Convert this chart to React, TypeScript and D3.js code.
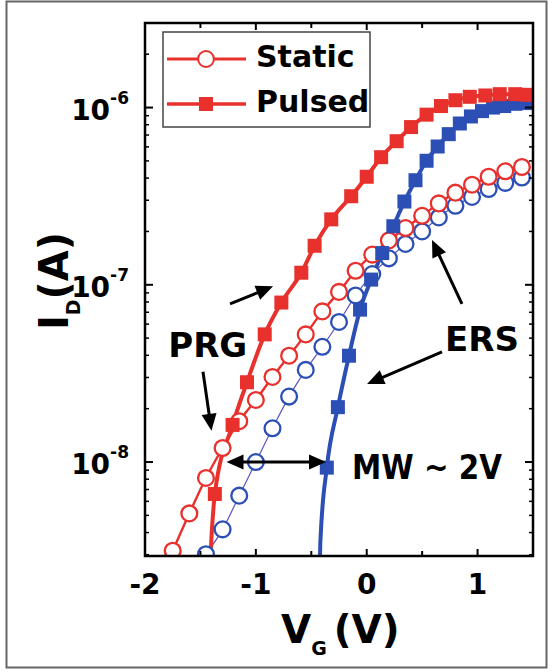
import React from 'react';
import * as d3 from 'd3';

const W = 553;
const H = 672;
const PL = 145, PR = 533, PT = 23, PB = 556;

const xMajor = [-2, -1, 0, 1];
const xMinor = [-1.5, -0.5, 0.5];
const yMajor = [1e-8, 1e-7, 1e-6];
const yExpLabels = ['-8', '-7', '-6'];

// Static (open circles)
const staticRedV = [-1.75, -1.6, -1.45, -1.3, -1.15, -1.0, -0.85, -0.7, -0.55, -0.4, -0.25, -0.1, 0.05, 0.2, 0.35, 0.5, 0.65, 0.8, 0.95, 1.1, 1.25, 1.4];
const staticRedI = [3.16e-9, 5.13e-9, 8.13e-9, 1.2e-8, 1.7e-8, 2.24e-8, 3.02e-8, 3.98e-8, 5.25e-8, 7.08e-8, 9.12e-8, 1.2e-7, 1.48e-7, 1.78e-7, 2.09e-7, 2.45e-7, 2.88e-7, 3.31e-7, 3.67e-7, 4.07e-7, 4.37e-7, 4.62e-7];
const staticBlueV = [-1.45, -1.3, -1.15, -1.0, -0.85, -0.7, -0.55, -0.4, -0.25, -0.1, 0.05, 0.2, 0.35, 0.5, 0.65, 0.8, 0.95, 1.1, 1.25, 1.4];
const staticBlueI = [3.02e-9, 4.17e-9, 6.46e-9, 1.0e-8, 1.55e-8, 2.34e-8, 3.31e-8, 4.47e-8, 6.17e-8, 8.71e-8, 1.15e-7, 1.41e-7, 1.7e-7, 2.0e-7, 2.4e-7, 2.79e-7, 3.13e-7, 3.47e-7, 3.76e-7, 4.03e-7];

// Pulsed (filled squares); tails continue the curve below the axis without markers
const pulsedRedTailV = [-1.43, -1.4];
const pulsedRedTailI = [1.58e-9, 3.8e-9];
const pulsedRedV = [-1.37, -1.21, -1.08, -0.92, -0.77, -0.59, -0.47, -0.32, -0.14, 0.0, 0.13, 0.27, 0.4, 0.54, 0.67, 0.8, 0.93, 1.07, 1.2, 1.34, 1.45];
const pulsedRedI = [6.6e-9, 1.62e-8, 2.82e-8, 5.25e-8, 7.94e-8, 1.17e-7, 1.66e-7, 2.34e-7, 3.16e-7, 4.07e-7, 5.25e-7, 6.46e-7, 7.76e-7, 9.12e-7, 1.02e-6, 1.1e-6, 1.15e-6, 1.17e-6, 1.19e-6, 1.19e-6, 1.18e-6];
const pulsedBlueTailV = [-0.43, -0.418];
const pulsedBlueTailI = [1.26e-9, 3.55e-9];
const pulsedBlueV = [-0.36, -0.26, -0.16, -0.06, 0.04, 0.14, 0.24, 0.34, 0.44, 0.54, 0.64, 0.74, 0.84, 0.94, 1.04, 1.14, 1.24, 1.34, 1.44];
const pulsedBlueI = [9.3e-9, 2.04e-8, 3.98e-8, 7.24e-8, 1.07e-7, 1.51e-7, 2.14e-7, 2.95e-7, 3.89e-7, 5.01e-7, 6.03e-7, 7.08e-7, 8.13e-7, 8.91e-7, 9.55e-7, 1.0e-6, 1.02e-6, 1.05e-6, 1.06e-6];

// Annotations in data coordinates [V, I]
const arrowPrgUp = [[-1.233, 7.8e-8], [-0.845, 9.8e-8]];
const arrowPrgDown = [[-1.477, 3.23e-8], [-1.4, 1.5e-8]];
const arrowMW = [[-1.265, 1.0e-8], [-0.367, 1.0e-8]];
const arrowErsUp = [[0.859, 7.8e-8], [0.589, 1.79e-7]];
const arrowErsLeft = [[0.679, 4.18e-8], [0.003, 2.76e-8]];
const textPRG = [-1.79, 3.9e-8];
const textERS = [0.706, 4.24e-8];
const textMW = [-0.133, 8.07e-9];

const RED = '#e8302c';
const BLUE = '#2c4fb6';
const BLUE_THIN = '#5a55c0';
const FONT = '"DejaVu Sans", Arial, sans-serif';

const x = d3.scaleLinear().domain([-2, 1.5]).range([PL, PR]);
const y = d3.scaleLog().domain([2.95e-9, 3.0e-6]).range([PB, PT]);

function zip(vs: number[], is: number[]) {
  return vs.map((v, i) => [v, is[i]] as [number, number]);
}

const line = d3
  .line<[number, number]>()
  .x((d) => x(d[0]))
  .y((d) => y(d[1]))
  .curve(d3.curveMonotoneX);

function Arrow({ p, double }: { p: number[][]; double?: boolean }) {
  const x1 = x(p[0][0] as number), y1 = y(p[0][1] as number);
  const x2 = x(p[1][0] as number), y2 = y(p[1][1] as number);
  const ang = Math.atan2(y2 - y1, x2 - x1);
  const hl = 17, hw = 7.5;
  const head = (tx: number, ty: number, a: number) => {
    const bx = tx - hl * Math.cos(a), by = ty - hl * Math.sin(a);
    const nx = -Math.sin(a) * hw, ny = Math.cos(a) * hw;
    return `${tx},${ty} ${bx + nx},${by + ny} ${bx - nx},${by - ny}`;
  };
  const sx = double ? x1 + (hl - 2) * Math.cos(ang) : x1;
  const sy = double ? y1 + (hl - 2) * Math.sin(ang) : y1;
  const ex = x2 - (hl - 2) * Math.cos(ang);
  const ey = y2 - (hl - 2) * Math.sin(ang);
  return (
    <g>
      <line x1={sx} y1={sy} x2={ex} y2={ey} stroke="#000" strokeWidth={3} />
      <polygon points={head(x2, y2, ang)} fill="#000" />
      {double && <polygon points={head(x1, y1, ang + Math.PI)} fill="#000" />}
    </g>
  );
}

export default function App() {
  const yMinor: number[] = [];
  for (let e = -9; e <= -6; e++) {
    for (let k = 2; k <= 9; k++) {
      const v = k * Math.pow(10, e);
      if (v >= 2.95e-9 && v <= 3.0e-6) yMinor.push(v);
    }
  }
  const sq = 14;
  const rr = 7.9;
  const sR = zip(staticRedV, staticRedI);
  const sB = zip(staticBlueV, staticBlueI);
  const pR = zip(pulsedRedV, pulsedRedI);
  const pB = zip(pulsedBlueV, pulsedBlueI);
  const pRline = zip(pulsedRedTailV, pulsedRedTailI).concat(pR);
  const pBline = zip(pulsedBlueTailV, pulsedBlueTailI).concat(pB);

  return (
    <svg width={W} height={H} style={{ position: 'absolute', left: 0, top: 0, background: '#fff' }} fontFamily={FONT}>
      <rect x={6.5} y={1.5} width={540} height={666} fill="#fff" stroke="#666" strokeWidth={2} />
      <defs>
        <clipPath id="plotclip">
          <rect x={PL} y={PT} width={PR - PL} height={PB - PT} />
        </clipPath>
      </defs>

      {/* Legend */}
      <rect x={163} y={32} width={207} height={95} fill="#fff" stroke="#444" strokeWidth={1.5} />
      <line x1={167} x2={246} y1={59} y2={59} stroke={RED} strokeWidth={3} />
      <circle cx={206} cy={59} r={rr} fill="#fff" stroke={RED} strokeWidth={2} />
      <text x={256} y={67} fontSize={30} fontWeight="bold">Static</text>
      <line x1={167} x2={246} y1={104} y2={104} stroke={RED} strokeWidth={3.5} />
      <rect x={206 - sq / 2} y={104 - sq / 2} width={sq} height={sq} fill={RED} />
      <text x={256} y={112} fontSize={30} fontWeight="bold">Pulsed</text>

      <g clipPath="url(#plotclip)">
        <path d={line(sB) || ''} fill="none" stroke={BLUE_THIN} strokeWidth={1.2} />
        <path d={line(sR) || ''} fill="none" stroke={RED} strokeWidth={2.4} />
        <path d={line(pBline) || ''} fill="none" stroke={BLUE} strokeWidth={4} />
        <path d={line(pRline) || ''} fill="none" stroke={RED} strokeWidth={4} />
        {sB.map((d, i) => (
          <circle key={'sb' + i} cx={x(d[0])} cy={y(d[1])} r={rr} fill="#fff" stroke={BLUE} strokeWidth={2.3} />
        ))}
        {sR.map((d, i) => (
          <circle key={'sr' + i} cx={x(d[0])} cy={y(d[1])} r={rr} fill="#fff" stroke={RED} strokeWidth={2.3} />
        ))}
        {pB.map((d, i) => (
          <rect key={'pb' + i} x={x(d[0]) - sq / 2} y={y(d[1]) - sq / 2} width={sq} height={sq} fill={BLUE} />
        ))}
        {pR.map((d, i) => (
          <rect key={'pr' + i} x={x(d[0]) - sq / 2} y={y(d[1]) - sq / 2} width={sq} height={sq} fill={RED} />
        ))}
      </g>

      {/* Annotations */}
      <Arrow p={arrowPrgUp} />
      <Arrow p={arrowPrgDown} />
      <Arrow p={arrowMW} double />
      <Arrow p={arrowErsUp} />
      <Arrow p={arrowErsLeft} />
      <text x={x(textPRG[0])} y={y(textPRG[1])} fontSize={34} fontWeight="bold">PRG</text>
      <text x={x(textERS[0])} y={y(textERS[1])} fontSize={34} fontWeight="bold">ERS</text>
      <text x={x(textMW[0])} y={y(textMW[1])} fontSize={34} fontWeight="bold" textLength={150} lengthAdjust="spacingAndGlyphs">MW ~ 2V</text>

      {/* Axes frame */}
      <rect x={PL} y={PT} width={PR - PL} height={PB - PT} fill="none" stroke="#000" strokeWidth={2.5} />
      {xMajor.concat(xMinor).map((v, i) => (
        <g key={'xt' + i}>
          <line x1={x(v)} x2={x(v)} y1={PB} y2={PB - (i < xMajor.length ? 7 : 5)} stroke="#000" strokeWidth={2} />
          <line x1={x(v)} x2={x(v)} y1={PT} y2={PT + (i < xMajor.length ? 7 : 5)} stroke="#000" strokeWidth={2} />
        </g>
      ))}
      {yMajor.map((v, i) => (
        <g key={'ym' + i}>
          <line x1={PL} x2={PL + 8} y1={y(v)} y2={y(v)} stroke="#000" strokeWidth={2} />
          <line x1={PR} x2={PR - 8} y1={y(v)} y2={y(v)} stroke="#000" strokeWidth={2} />
        </g>
      ))}
      {yMinor.map((v, i) => (
        <g key={'yn' + i}>
          <line x1={PL} x2={PL + 4} y1={y(v)} y2={y(v)} stroke="#000" strokeWidth={1.5} />
          <line x1={PR} x2={PR - 4} y1={y(v)} y2={y(v)} stroke="#000" strokeWidth={1.5} />
        </g>
      ))}

      {/* Tick labels */}
      {xMajor.map((v, i) => (
        <text key={'xl' + i} x={x(v)} y={594} fontSize={28} fontWeight="bold" textAnchor="middle">
          {v < 0 ? '-' + Math.abs(v) : String(v)}
        </text>
      ))}
      {yMajor.map((v, i) => (
        <text key={'yl' + i} x={129} y={y(v) + 12} fontSize={28} fontWeight="bold" textAnchor="end">
          10
          <tspan fontSize={17} dy={-16}>{yExpLabels[i]}</tspan>
        </text>
      ))}

      {/* Axis titles */}
      <text x={281} y={643} fontSize={39} fontWeight="bold">
        V<tspan fontSize={19} dy={12}>G</tspan>
        <tspan dy={-12} dx={7}>(V)</tspan>
      </text>
      <text transform={`translate(68,${281}) rotate(-90)`} fontSize={40} fontWeight="bold" textAnchor="middle">
        I<tspan fontSize={19} dy={12}>D</tspan>
        <tspan dy={-12}>(A)</tspan>
      </text>
    </svg>
  );
}
